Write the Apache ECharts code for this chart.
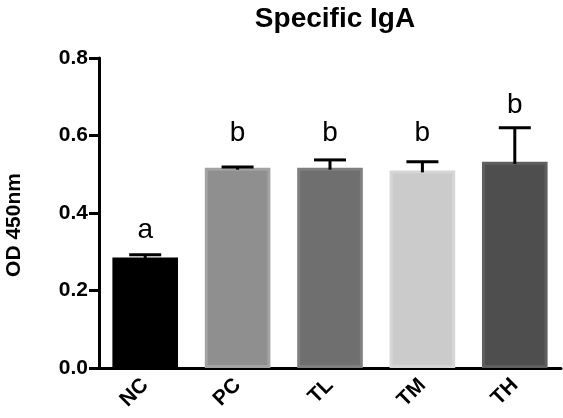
<!DOCTYPE html>
<html><head><meta charset="utf-8">
<script src="https://cdn.jsdelivr.net/npm/echarts@6/dist/echarts.min.js"></script>
<style>html,body{margin:0;padding:0;background:#fff}#c{width:563px;height:418px}</style>
</head><body><div id="c"></div>
<script>
const categories = ['NC', 'PC', 'TL', 'TM', 'TH'];
const means = [0.285, 0.517, 0.517, 0.510, 0.532];
const sem = [0.007, 0.002, 0.020, 0.022, 0.088];
const letters = ['a', 'b', 'b', 'b', 'b'];
const letterLevel = [0.318, 0.57, 0.57, 0.57, 0.642];
const yTicks = [0.0, 0.2, 0.4, 0.6, 0.8];

const fills = ['#000000', '#8f8f8f', '#6f6f6f', '#cbcbcb', '#4e4e4e'];
const borders = ['#000000', '#a3a3a3', '#7f7f7f', '#d6d6d6', '#5f5f5f'];
const FONT = '"Liberation Sans", Arial, Helvetica, sans-serif';

const chart = echarts.init(document.getElementById('c'), null, {renderer: 'canvas'});
chart.setOption({
  animation: false,
  backgroundColor: '#fff',
  title: {
    text: 'Specific IgA', left: 330, top: 0, textAlign: 'center',
    textStyle: {fontFamily: FONT, fontWeight: 'bold', fontSize: 28, color: '#000'}
  },
  grid: {left: 99, right: 2, top: 58, bottom: 50, containLabel: false, outerBoundsMode: 'none'},
  xAxis: {
    type: 'category', data: categories,
    axisLine: {lineStyle: {color: '#000', width: 3}},
    axisTick: {alignWithLabel: true, length: 10, lineStyle: {color: '#000', width: 3}},
    axisLabel: {rotate: 45, margin: 14, fontFamily: FONT, fontWeight: 'bold', fontSize: 21, color: '#000'}
  },
  yAxis: {
    type: 'value', min: 0, max: 0.8, interval: 0.2,
    name: 'OD 450nm', nameLocation: 'middle', nameRotate: 90, nameGap: 74,
    nameTextStyle: {fontFamily: FONT, fontWeight: 'bold', fontSize: 21, color: '#000', padding: [0, 24, 0, 0]},
    axisLine: {show: true, lineStyle: {color: '#000', width: 3}},
    axisTick: {show: true, length: 10, lineStyle: {color: '#000', width: 3}},
    splitLine: {show: false},
    axisLabel: {margin: 11, fontFamily: FONT, fontWeight: 'bold', fontSize: 21, color: '#000',
      formatter: v => yTicks.includes(Math.round(v * 10) / 10) ? v.toFixed(1) : ''}
  },
  series: [
    {
      type: 'bar', barWidth: '71%',
      data: means.map((v, i) => ({value: v, itemStyle: {color: fills[i], borderColor: borders[i], borderWidth: 3}})),
      z: 2
    },
    {
      type: 'custom', z: 5,
      data: means.map((v, i) => [i, v, sem[i], letterLevel[i]]),
      renderItem: function (params, api) {
        const i = api.value(0);
        const base = api.coord([i, api.value(1)]);
        const top = api.coord([i, api.value(1) + api.value(2)]);
        const lt = api.coord([i, api.value(3)]);
        const capHalf = 16;
        const st = {stroke: '#000', lineWidth: 3};
        return {
          type: 'group',
          children: [
            {type: 'line', shape: {x1: base[0], y1: base[1] + 2, x2: top[0], y2: top[1]}, style: st},
            {type: 'line', shape: {x1: top[0] - capHalf, y1: top[1], x2: top[0] + capHalf, y2: top[1]}, style: st},
            {type: 'text', x: lt[0], y: lt[1], style: {text: letters[params.dataIndex], fill: '#000',
              font: 'normal 28px ' + FONT, textAlign: 'center', textVerticalAlign: 'bottom'}}
          ]
        };
      }
    }
  ]
});
</script></body></html>
